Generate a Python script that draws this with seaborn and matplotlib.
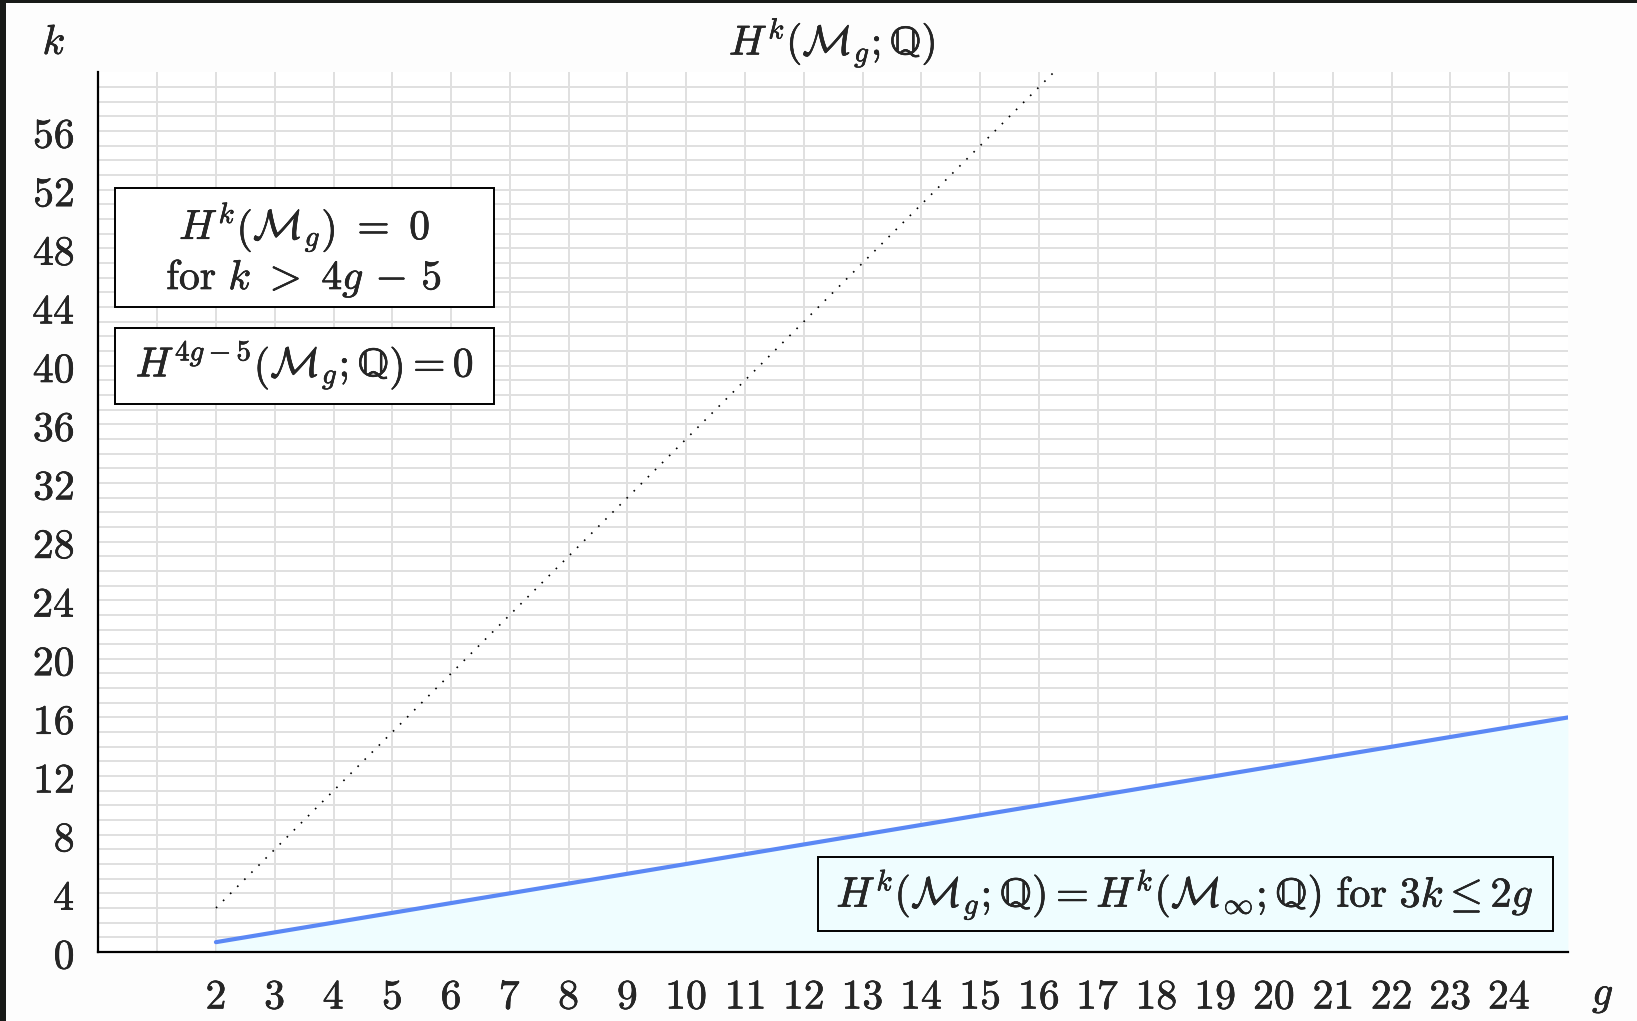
import matplotlib
matplotlib.use("Agg")
import matplotlib.pyplot as plt
import matplotlib.patheffects as pe
import seaborn as sns
import pandas as pd
import numpy as np
from matplotlib.patches import Rectangle

# data
g_ticks = list(range(2, 25))
k_ticks = list(range(0, 57, 4))

# stable range line  k = 2(g-1)/3
g_stable = [2, 25]
k_stable = [0.67, 16.0]

# vcd line  k = 4g - 5
g_vcd = [2, 16.25]
k_vcd = [3, 60]

sns.set_style("white")
plt.rcParams['mathtext.fontset'] = 'cm'
plt.rcParams['font.family'] = ['DejaVu Serif']

Q = r'\mathrm{\mathbb{Q}}'
bold = [pe.withStroke(linewidth=0.4, foreground='black')]

fig = plt.figure(figsize=(16.37, 10.21), dpi=100)
ax = fig.add_axes([0.0601, 0.0676, 0.8977, 0.8614])

ax.set_xlim(0, 25)
ax.set_ylim(0, 60)

# grid every integer (major + minor so none get dropped)
ax.set_xticks(g_ticks)
ax.set_yticks(k_ticks)
ax.set_xticks([0, 1], minor=True)
ax.set_yticks([v for v in range(0, 60) if v % 4], minor=True)
ax.grid(which='both', color='#e0e0e0', lw=1.4, zorder=0)
ax.set_axisbelow(True)

# shaded stable region
df_s = pd.DataFrame({'g': g_stable, 'k': k_stable})
ax.fill_between(df_s['g'], 0, df_s['k'], color='#effdff', zorder=1, lw=0)
sns.lineplot(data=df_s, x='g', y='k', color='#5b88f5', lw=3, ax=ax, zorder=3)

df_v = pd.DataFrame({'g': g_vcd, 'k': k_vcd})
sns.lineplot(data=df_v, x='g', y='k', color='black', lw=1.2,
             linestyle=(0, (1, 5)), ax=ax, zorder=3)

ax.set_xlim(0, 25)
ax.set_ylim(0, 60)
ax.set_xticklabels([f'${v}$' for v in g_ticks], fontsize=30)
ax.set_yticklabels([f'${v}$' for v in k_ticks], fontsize=30)
for t in ax.get_xticklabels() + ax.get_yticklabels():
    t.set_path_effects(bold)
ax.tick_params(axis='both', which='both', length=0)
ax.tick_params(axis='x', pad=17)
ax.tick_params(axis='y', pad=17)
ax.set_xlabel('')
ax.set_ylabel('')

for s in ['top', 'right']:
    ax.spines[s].set_visible(False)
for s in ['left', 'bottom']:
    ax.spines[s].set_color('black')
    ax.spines[s].set_linewidth(1.6)
    ax.spines[s].set_zorder(4)

# boxes with statements
ax.add_patch(Rectangle((0.28, 43.97), 6.45, 8.13, fc='white', ec='black', lw=1.4, zorder=5))
ax.text(3.5, 49.5, r'$H^k\left(\mathcal{M}_g\right)\ =\ 0$', fontsize=30,
        ha='center', va='center', zorder=6, path_effects=bold)
ax.text(3.5, 46.0, r'$\mathrm{for}\ k\ >\ 4g\,-\,5$', fontsize=30,
        ha='center', va='center', zorder=6, path_effects=bold)

ax.add_patch(Rectangle((0.28, 37.4), 6.45, 5.2, fc='white', ec='black', lw=1.4, zorder=5))
ax.text(3.5, 40.1, r'$H^{4g-5}\left(\mathcal{M}_g;' + Q + r'\right) = 0$', fontsize=30,
        ha='center', va='center', zorder=6, path_effects=bold)

ax.add_patch(Rectangle((12.24, 1.43), 12.5, 5.05, fc='#effdff', ec='black', lw=1.4, zorder=5))
ax.text(18.49, 3.95,
        r'$H^k(\mathcal{M}_g;' + Q + r') = H^k(\mathcal{M}_\infty;' + Q
        + r')\ \mathrm{for}\ 3k \leq 2g$',
        fontsize=30.5, ha='center', va='center', zorder=6, path_effects=bold)

# axis names and title
fig.text(54 / 1637, 1 - 42 / 1021, r'$k$', fontsize=30, ha='center', va='center',
         path_effects=bold)
fig.text(1603 / 1637, 1 - 994 / 1021, r'$g$', fontsize=30, ha='center', va='center',
         path_effects=bold)
fig.text(0.5085, 1 - 42 / 1021, r'$H^k(\mathcal{M}_g;' + Q + r')$', fontsize=30,
         ha='center', va='center', path_effects=bold)

# dark screen edge
fig.add_artist(Rectangle((0, 0), 6 / 1637, 1, transform=fig.transFigure,
                         color='#181a18', lw=0))
fig.add_artist(Rectangle((0, 1 - 3 / 1021), 1, 3 / 1021, transform=fig.transFigure,
                         color='#181a18', lw=0))

fig.savefig('out.png', dpi=100, facecolor='#fdfdfd')
